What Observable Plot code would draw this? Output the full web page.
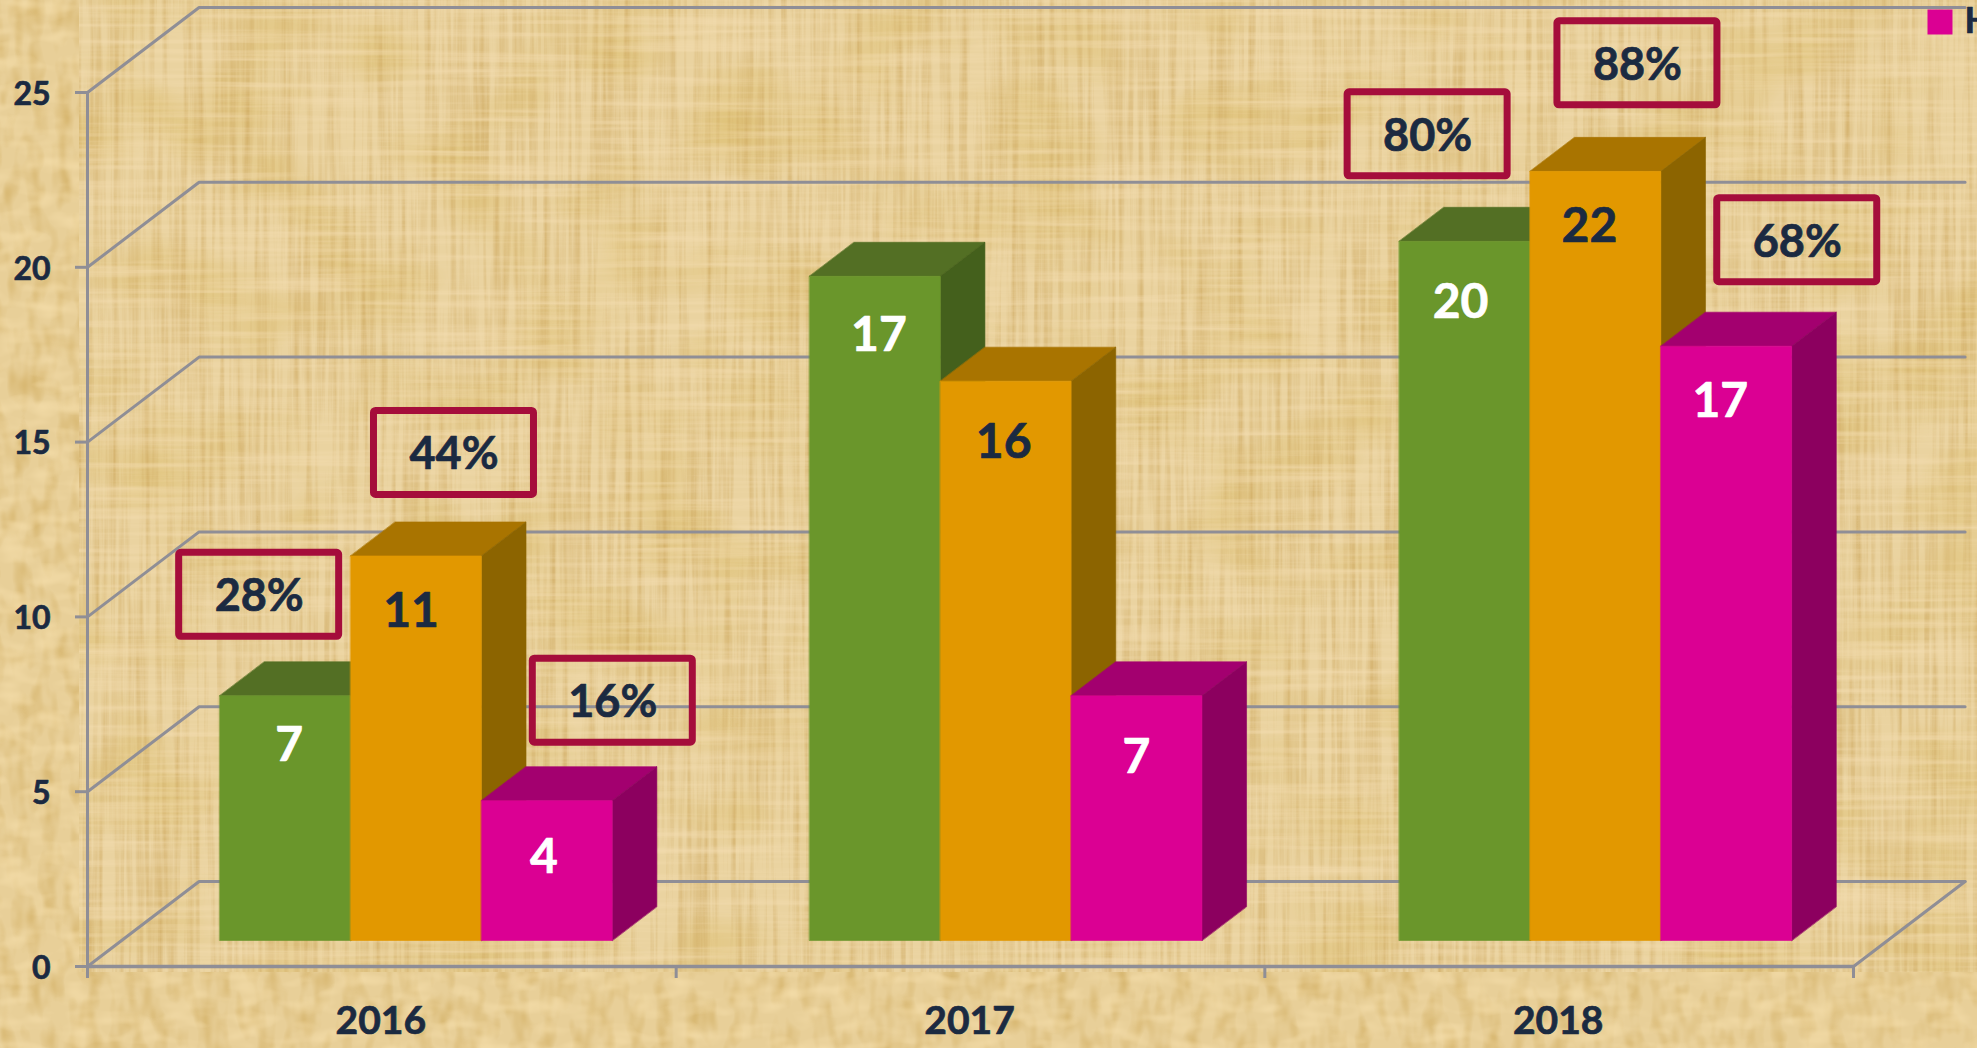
<!DOCTYPE html>
<html>
<head>
<meta charset="utf-8">
<style>
html,body{margin:0;padding:0;width:1977px;height:1048px;overflow:hidden;background:#E9D09A;font-family:Lato,sans-serif}
#bg{position:absolute;left:0;top:0}
#chart{position:absolute;left:0;top:0}
#chart svg{display:block}
</style>
<script src="https://cdn.jsdelivr.net/npm/d3@7"></script>
<script src="https://cdn.jsdelivr.net/npm/@observablehq/plot@0.6"></script>
</head>
<body>
<svg id="bg" width="1977" height="1048">
  <defs>
    <filter id="fine" x="0" y="0" width="100%" height="100%" color-interpolation-filters="sRGB">
      <feTurbulence type="fractalNoise" baseFrequency="0.16 0.005" numOctaves="3" seed="4" result="v"/>
      <feColorMatrix in="v" type="matrix" values="0 0 0 0 .8  0 0 0 0 .65  0 0 0 0 .36  1.3 0 0 0 -.52" result="va"/>
      <feTurbulence type="fractalNoise" baseFrequency="0.005 0.16" numOctaves="3" seed="9" result="h"/>
      <feColorMatrix in="h" type="matrix" values="0 0 0 0 .96  0 0 0 0 .87  0 0 0 0 .7  1.3 0 0 0 -.52" result="ha"/>
      <feTurbulence type="fractalNoise" baseFrequency="0.01 0.012" numOctaves="2" seed="2" result="b"/>
      <feColorMatrix in="b" type="matrix" values="0 0 0 0 .86  0 0 0 0 .74  0 0 0 0 .42  1.5 0 0 0 -.65" result="ba"/>
      <feMerge><feMergeNode in="SourceGraphic"/><feMergeNode in="ba"/><feMergeNode in="va"/><feMergeNode in="ha"/></feMerge>
    </filter>
    <filter id="coarse" x="0" y="0" width="100%" height="100%" color-interpolation-filters="sRGB">
      <feTurbulence type="fractalNoise" baseFrequency="0.07 0.03" numOctaves="2" seed="6" result="v"/>
      <feColorMatrix in="v" type="matrix" values="0 0 0 0 .82  0 0 0 0 .68  0 0 0 0 .38  1.6 0 0 0 -.68" result="va"/>
      <feTurbulence type="fractalNoise" baseFrequency="0.03 0.07" numOctaves="2" seed="8" result="h"/>
      <feColorMatrix in="h" type="matrix" values="0 0 0 0 .97  0 0 0 0 .88  0 0 0 0 .68  1.6 0 0 0 -.72" result="ha"/>
      <feMerge><feMergeNode in="SourceGraphic"/><feMergeNode in="va"/><feMergeNode in="ha"/></feMerge>
    </filter>
  </defs>
  <rect width="1977" height="1048" fill="#E8CF98" filter="url(#coarse)"/>
  <rect x="79" y="0" width="1898" height="972" fill="#EAD3A0" filter="url(#fine)"/>
</svg>
<div id="chart"></div>
<script>
// ---------- data ----------
const years = ["2016", "2017", "2018"];
const greenValues = [7, 19, 20];
const orangeValues = [11, 16, 22];
const pinkValues = [4, 7, 17];
const greenLabels = ["7", "17", "20"];
const orangeLabels = ["11", "16", "22"];
const pinkLabels = ["4", "7", "17"];
const greenShares = ["28%", null, "80%"];
const orangeShares = ["44%", null, "88%"];
const pinkShares = ["16%", null, "68%"];
const valueTicks = [0, 5, 10, 15, 20, 25];
const legendText = "H";

// ---------- styles ----------
const ink = "#1B2A41", gridColor = "#8F8E96", boxColor = "#A50D3B";
const seriesStyle = [
  {front: "#6A962B", top: "#536F24", side: "#44601C", text: "#FFFFFF"},
  {front: "#E29800", top: "#A97400", side: "#8C6400", text: ink},
  {front: "#DB0093", top: "#A3006F", side: "#8C005F", text: "#FFFFFF"}
];
const boldText = (fill, fontSize) => ({fill, stroke: fill, strokeWidth: 0.7, fontSize, fontWeight: 700});

// ---------- oblique 3D layout, in data units ----------
const pxPerCat = 588.67, pxPerValue = 34.96;
const depthX = 111.6 / pxPerCat, depthV = 85 / pxPerValue;
const barW = 1 / 4.5, gap = 0.75 * barW, zFront = 0.306, zBack = 0.706, groupStep = 1.0018;
const X = (c, z) => c + depthX * z;
const V = (v, z) => v + depthV * z;
const pts = (list) => list.map(([c, v, z]) => ({x: X(c, z), y: V(v, z)}));

const marks = [];
// walls and floor lines
for (const t of valueTicks) {
  marks.push(Plot.line(pts([[0, t, 0], [0, t, 1], [3, t, 1]]), {x: "x", y: "y", stroke: gridColor, strokeWidth: 3}));
}
marks.push(Plot.line(pts([[3, 0, 0], [3, 0, 1]]), {x: "x", y: "y", stroke: gridColor, strokeWidth: 3}));
marks.push(Plot.axisY({ticks: valueTicks, tickSize: 12, tickFormat: () => "", label: null, stroke: gridColor, strokeWidth: 3}));
marks.push(Plot.text(valueTicks, {y: d => d, text: d => String(d), frameAnchor: "left", textAnchor: "end", dx: -37, dy: 2, ...boldText(ink, 32)}));
marks.push(Plot.axisX({ticks: [0, 1, 2, 3], tickSize: 12, tickFormat: () => "", label: null, stroke: gridColor, strokeWidth: 3}));
marks.push(Plot.ruleX([0], {y1: 0, y2: 25, stroke: gridColor, strokeWidth: 3}));
marks.push(Plot.ruleY([0], {x1: 0, x2: 3, stroke: gridColor, strokeWidth: 3.5}));

// bars: drawn left to right, each as top, side and front faces
const allValues = [greenValues, orangeValues, pinkValues];
years.forEach((year, i) => {
  allValues.forEach((vals, s) => {
    const c0 = i * groupStep + gap + s * barW, c1 = c0 + barW, v = vals[i], st = seriesStyle[s];
    const faces = [
      [st.top, [[c0, v, zFront], [c1, v, zFront], [c1, v, zBack], [c0, v, zBack]]],
      [st.side, [[c1, 0, zFront], [c1, v, zFront], [c1, v, zBack], [c1, 0, zBack]]],
      [st.front, [[c0, 0, zFront], [c1, 0, zFront], [c1, v, zFront], [c0, v, zFront]]]
    ];
    for (const [color, f] of faces) {
      marks.push(Plot.line(pts(f), {x: "x", y: "y", fill: color, stroke: color, strokeWidth: 0.6, curve: "linear-closed"}));
    }
  });
});

// value labels, nudged (in px) from the top centre of each bar's front
const allLabels = [greenLabels, orangeLabels, pinkLabels];
const labelNudge = [
  [[4, 50], [4, 59], [-4, 61]],
  [[-5, 56], [-2, 61], [-6, 55]],
  [[-3, 57], [0, 62], [-6, 55]]
];
const labelRows = [];
years.forEach((_, i) => allLabels.forEach((labs, s) => {
  const c = i * groupStep + gap + (s + 0.5) * barW, [dx, dy] = labelNudge[s][i];
  labelRows.push({
    x: X(c, zFront) + dx / pxPerCat,
    y: V(allValues[s][i], zFront) - dy / pxPerValue,
    text: labs[i], fill: seriesStyle[s].text
  });
}));
marks.push(Plot.text(labelRows, {x: "x", y: "y", text: "text", fill: "fill", stroke: "fill", strokeWidth: 0.7, fontSize: 48, fontWeight: 700}));

// share boxes, nudged (in px) from the top centre of each bar's front
const allShares = [greenShares, orangeShares, pinkShares];
const boxNudge = [
  [[-26, 101], null, [-37, 107]],
  [[38, 103], null, [42, 108]],
  [[66, 100], null, [71, 106]]
];
const boxW = 160, boxH = 84;
const boxRows = [];
years.forEach((_, i) => allShares.forEach((shares, s) => {
  if (!shares[i]) return;
  const c = i * groupStep + gap + (s + 0.5) * barW, [dx, dy] = boxNudge[s][i];
  const cx = X(c, zFront) + dx / pxPerCat, cy = V(allValues[s][i], zFront) + dy / pxPerValue;
  boxRows.push({cx, cy, text: shares[i],
    x1: cx - boxW / 2 / pxPerCat, x2: cx + boxW / 2 / pxPerCat,
    y1: cy - boxH / 2 / pxPerValue, y2: cy + boxH / 2 / pxPerValue});
}));
marks.push(Plot.rect(boxRows, {x1: "x1", x2: "x2", y1: "y1", y2: "y2", fill: "none", stroke: boxColor, strokeWidth: 7, rx: 2}));
marks.push(Plot.text(boxRows, {x: "cx", y: "cy", text: "text", dy: 2, ...boldText(ink, 45)}));

// category labels
marks.push(Plot.text(years, {x: (d, i) => i + 0.5, frameAnchor: "bottom", lineAnchor: "middle", dx: -1, dy: 55, text: d => d, ...boldText(ink, 39)}));

// legend at the top right, clipped by the picture's edge as in the reference
marks.push(Plot.dot([legendText], {frameAnchor: "top-left", dx: 1939.5 - 87, dy: 21.5 - 92, symbol: "square", r: 14.1, fill: seriesStyle[2].front, stroke: null}));
marks.push(Plot.text([legendText], {frameAnchor: "top-left", dx: 1964 - 87, dy: 21 - 92, text: d => d, textAnchor: "start", lineAnchor: "middle", ...boldText(ink, 36)}));

const chart = Plot.plot({
  width: 1977, height: 1048,
  marginLeft: 87, marginRight: 124, marginTop: 92, marginBottom: 82,
  style: {background: "transparent", fontFamily: "Lato, sans-serif", overflow: "hidden"},
  x: {domain: [0, 3], axis: null},
  y: {domain: [0, 25], axis: null},
  marks
});
document.getElementById("chart").append(chart);
</script>
</body>
</html>
